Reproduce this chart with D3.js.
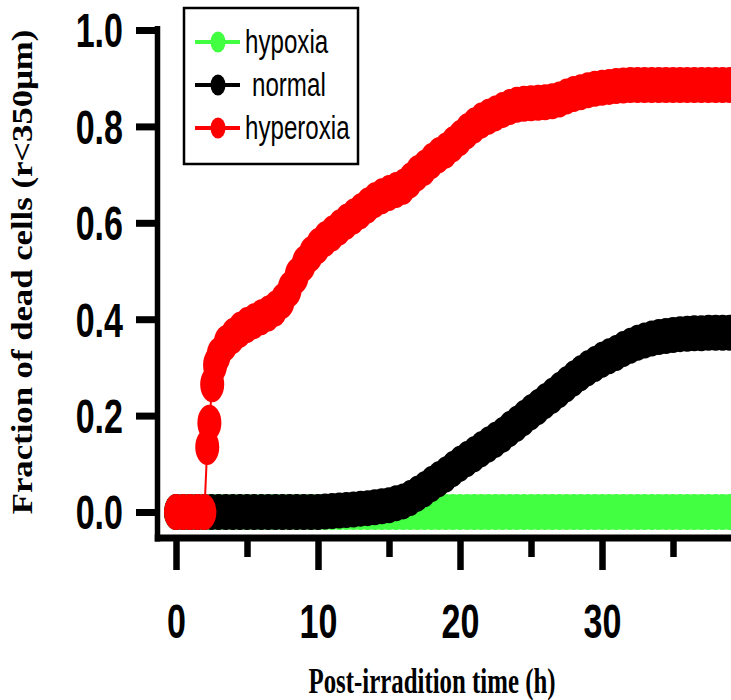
<!DOCTYPE html>
<html>
<head>
<meta charset="utf-8">
<script src="https://cdn.jsdelivr.net/npm/d3@7"></script>
<style>
body { margin: 0; background: #fff; }
svg { display: block; }
</style>
</head>
<body>
<svg id="chart" width="731" height="700"></svg>
<script>
// time grid (h) for hypoxia / normal
const hours = [
    0, 0.5, 1, 1.5, 2, 2.5, 3, 3.5, 4, 4.5, 5, 5.5, 6, 6.5, 7, 7.5, 8, 8.5, 9, 9.5,
    10, 10.5, 11, 11.5, 12, 12.5, 13, 13.5, 14, 14.5, 15, 15.5, 16, 16.5, 17, 17.5, 18, 18.5, 19, 19.5,
    20, 20.5, 21, 21.5, 22, 22.5, 23, 23.5, 24, 24.5, 25, 25.5, 26, 26.5, 27, 27.5, 28, 28.5, 29, 29.5,
    30, 30.5, 31, 31.5, 32, 32.5, 33, 33.5, 34, 34.5, 35, 35.5, 36, 36.5, 37, 37.5, 38, 38.5, 39, 39.5,
    40
];
const hypoxia = [
    0, 0, 0, 0, 0, 0, 0, 0, 0, 0, 0, 0, 0, 0, 0, 0, 0, 0, 0, 0,
    0, 0, 0, 0, 0, 0, 0, 0, 0, 0, 0, 0, 0, 0, 0, 0, 0, 0, 0, 0,
    0, 0, 0, 0, 0, 0, 0, 0, 0, 0, 0, 0, 0, 0, 0, 0, 0, 0, 0, 0,
    0, 0, 0, 0, 0, 0, 0, 0, 0, 0, 0, 0, 0, 0, 0, 0, 0, 0, 0, 0,
    0
];
const normal = [
    0, 0, 0, 0, 0, 0, 0, 0, 0, 0, 0, 0, 0, 0, 0, 0, 0, 0, 0, 0,
    0, 0.001, 0.002, 0.003, 0.004, 0.005, 0.007, 0.008, 0.010, 0.012, 0.014, 0.018, 0.022, 0.029, 0.038, 0.047, 0.058, 0.068, 0.078, 0.089,
    0.100, 0.110, 0.120, 0.130, 0.140, 0.150, 0.160, 0.172, 0.183, 0.195, 0.207, 0.218, 0.230, 0.241, 0.253, 0.265, 0.277, 0.288, 0.298, 0.307,
    0.316, 0.323, 0.330, 0.338, 0.345, 0.351, 0.356, 0.360, 0.363, 0.365, 0.367, 0.369, 0.370, 0.371, 0.371, 0.372, 0.372, 0.372, 0.372, 0.372,
    0.372
];
const hyperoxiaHours = [
    0, 0.5, 1, 1.5, 2, 2.2, 2.35, 2.55, 2.75, 3, 3.5, 4, 4.5, 5, 5.5, 6, 6.5, 7, 7.5, 8, 8.5, 9, 9.5,
    10, 10.5, 11, 11.5, 12, 12.5, 13, 13.5, 14, 14.5, 15, 15.5, 16, 16.5, 17, 17.5, 18, 18.5, 19, 19.5,
    20, 20.5, 21, 21.5, 22, 22.5, 23, 23.5, 24, 24.5, 25, 25.5, 26, 26.5, 27, 27.5, 28, 28.5, 29, 29.5,
    30, 30.5, 31, 31.5, 32, 32.5, 33, 33.5, 34, 34.5, 35, 35.5, 36, 36.5, 37, 37.5, 38, 38.5, 39, 39.5,
    40
];
const hyperoxia = [
    0, 0, 0, 0, 0, 0.135, 0.185, 0.265, 0.305, 0.325, 0.350, 0.365, 0.378, 0.388, 0.396, 0.404, 0.412, 0.422, 0.438, 0.462, 0.490, 0.515, 0.535,
    0.552, 0.566, 0.578, 0.590, 0.602, 0.613, 0.624, 0.636, 0.647, 0.655, 0.662, 0.668, 0.675, 0.688, 0.703, 0.714, 0.728, 0.740, 0.750, 0.763,
    0.776, 0.790, 0.802, 0.812, 0.820, 0.827, 0.834, 0.840, 0.845, 0.847, 0.848, 0.849, 0.850, 0.852, 0.856, 0.862, 0.867, 0.871, 0.875, 0.878,
    0.880, 0.882, 0.884, 0.885, 0.886, 0.886, 0.886, 0.886, 0.886, 0.886, 0.886, 0.886, 0.886, 0.886, 0.886, 0.886, 0.886, 0.886, 0.886, 0.886,
    0.886
];

const yTicks = [0, 0.2, 0.4, 0.6, 0.8, 1.0];
const xMajorTicks = [0, 10, 20, 30];
const xMinorTicks = [5, 15, 25, 35];
const seriesNames = ["hypoxia", "normal", "hyperoxia"];
const seriesColors = ["#42ff42", "#000000", "#ff0000"];

const sans = "'Liberation Sans', Arial, sans-serif";
const serif = "'Liberation Serif', 'Times New Roman', serif";
const squeeze = 0.71; // original figure is squashed horizontally

const svg = d3.select("#chart");

const x = d3.scaleLinear().domain([0, 40]).range([176, 744]);
const y = d3.scaleLinear().domain([0, 1]).range([512, 30]);

const axisX = 157.5;
const axisY = 538;

// y axis
const yAxis = svg.append("g")
    .attr("transform", `translate(${axisX},0)`)
    .call(d3.axisLeft(y).tickValues(yTicks).tickFormat(d3.format(".1f")).tickSize(21.5).tickSizeOuter(0));
yAxis.select(".domain").remove();
yAxis.selectAll(".tick line").attr("stroke", "#000").attr("stroke-width", 7);
yAxis.selectAll(".tick text")
    .attr("x", null)
    .attr("dy", "0.35em")
    .attr("transform", `translate(-34.5,0) scale(${squeeze},1)`)
    .attr("fill", "#000")
    .style("font-family", sans)
    .style("font-weight", "bold")
    .style("font-size", "48px");
svg.append("line")
    .attr("x1", axisX).attr("x2", axisX)
    .attr("y1", 26).attr("y2", axisY + 3.5)
    .attr("stroke", "#000").attr("stroke-width", 5.5);

// x axis
const xAxis = svg.append("g")
    .attr("transform", `translate(0,${axisY})`)
    .call(d3.axisBottom(x).tickValues(xMajorTicks).tickFormat(d3.format("d")).tickSize(32).tickSizeOuter(0));
xAxis.select(".domain").remove();
xAxis.selectAll(".tick line").attr("stroke", "#000").attr("stroke-width", 6.5);
xAxis.selectAll(".tick text")
    .attr("y", 66)
    .attr("dy", "0.71em")
    .attr("transform", `scale(${squeeze},1)`)
    .attr("fill", "#000")
    .style("font-family", sans)
    .style("font-weight", "bold")
    .style("font-size", "48px");

const xMinor = svg.append("g")
    .attr("transform", `translate(0,${axisY})`)
    .call(d3.axisBottom(x).tickValues(xMinorTicks).tickFormat("").tickSize(19).tickSizeOuter(0));
xMinor.select(".domain").remove();
xMinor.selectAll(".tick line").attr("stroke", "#000").attr("stroke-width", 6.5);

svg.append("line")
    .attr("x1", axisX - 2.75).attr("x2", 731)
    .attr("y1", axisY).attr("y2", axisY)
    .attr("stroke", "#000").attr("stroke-width", 7);

// axis titles
svg.append("text")
    .attr("transform", `translate(432,693) scale(${squeeze},1)`)
    .attr("text-anchor", "middle")
    .style("font-family", serif)
    .style("font-weight", "bold")
    .style("font-size", "35px")
    .text("Post-irradition time (h)");

svg.append("text")
    .attr("transform", "translate(32,272) rotate(-90) scale(1,0.82)")
    .attr("text-anchor", "middle")
    .style("font-family", serif)
    .style("font-weight", "bold")
    .style("font-size", "34.7px")
    .text("Fraction of dead cells (r<350\u03bcm)");

// series
const series = [
    { name: seriesNames[0], color: seriesColors[0], points: hours.map((h, i) => ({ h: h, v: hypoxia[i] })) },
    { name: seriesNames[1], color: seriesColors[1], points: hours.map((h, i) => ({ h: h, v: normal[i] })) },
    { name: seriesNames[2], color: seriesColors[2], points: hyperoxiaHours.map((h, i) => ({ h: h, v: hyperoxia[i] })) }
];

const line = d3.line().x(d => x(d.h)).y(d => y(d.v));

series.forEach(s => {
    const g = svg.append("g");
    g.append("path")
        .datum(s.points)
        .attr("d", line)
        .attr("fill", "none")
        .attr("stroke", s.color)
        .attr("stroke-width", 2);
    g.selectAll("ellipse")
        .data(s.points)
        .join("ellipse")
        .attr("cx", d => x(d.h))
        .attr("cy", d => y(d.v))
        .attr("rx", 12)
        .attr("ry", 18)
        .attr("fill", s.color);
});

// legend
const legend = svg.append("g");
legend.append("rect")
    .attr("x", 184).attr("y", 8)
    .attr("width", 174).attr("height", 156)
    .attr("fill", "#fff")
    .attr("stroke", "#000")
    .attr("stroke-width", 2.5);

series.forEach((s, i) => {
    const ly = 42 + i * 43;
    legend.append("line")
        .attr("x1", 195).attr("x2", 240)
        .attr("y1", ly).attr("y2", ly)
        .attr("stroke", s.color).attr("stroke-width", 4);
    legend.append("ellipse")
        .attr("cx", 218).attr("cy", ly)
        .attr("rx", 7.5).attr("ry", 10.5)
        .attr("fill", s.color);
    legend.append("text")
        .attr("transform", `translate(${s.name === "normal" ? 252 : 245},${ly + 11}) scale(${squeeze},1)`)
        .style("font-family", sans)
        .style("font-size", "34px")
        .text(s.name);
});
</script>
</body>
</html>
